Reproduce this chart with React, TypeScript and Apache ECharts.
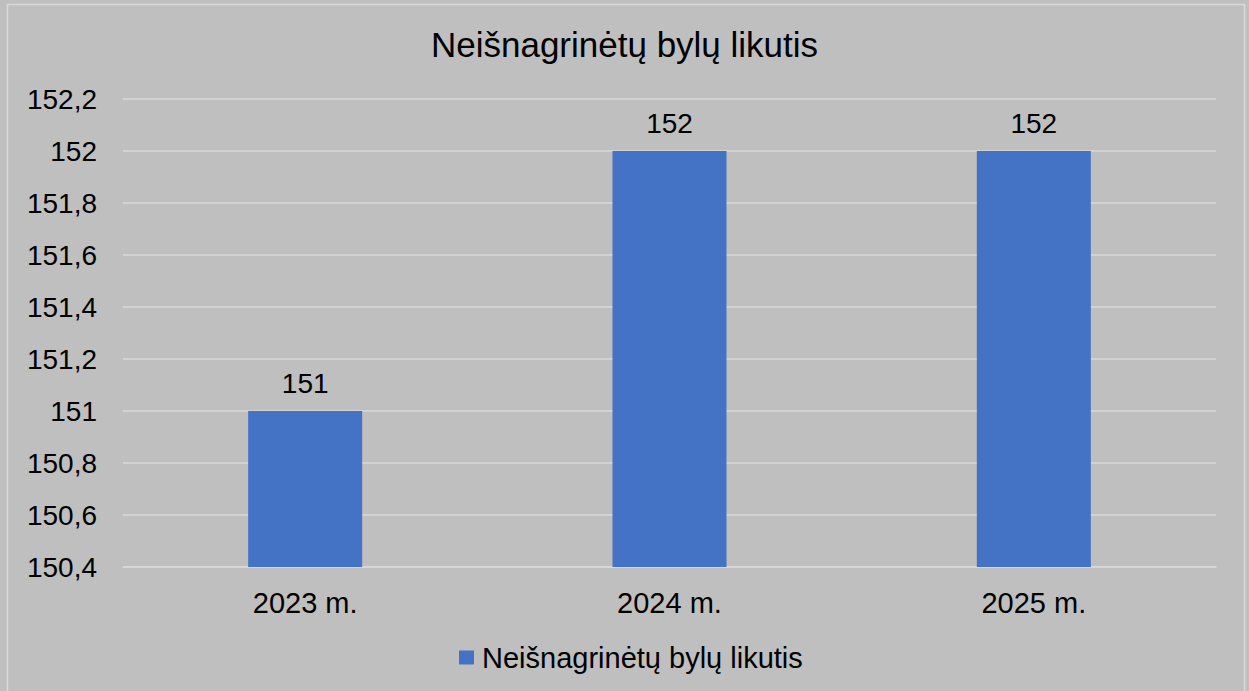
import React, { useEffect, useRef } from "react";
import * as echarts from "echarts";

const title = "Neišnagrinėtų bylų likutis";
const categories = ["2023 m.", "2024 m.", "2025 m."];
const seriesName = "Neišnagrinėtų bylų likutis";
const values = [151, 152, 152];
const yMin = 150.4;
const yMax = 152.2;
const yInterval = 0.2;

const FONT = "'Liberation Sans', Arial, sans-serif";

function fmt(v: number): string {
  return (Math.round(v * 10) / 10).toString().replace(".", ",");
}

export default function App() {
  const ref = useRef<HTMLDivElement>(null);
  useEffect(() => {
    if (!ref.current) return;
    const chart = echarts.init(ref.current, undefined, { renderer: "svg" });
    chart.setOption({
      animation: false,
      backgroundColor: "#bfbfbf",
      textStyle: { fontFamily: FONT },
      title: {
        text: title,
        left: "center",
        top: 27,
        padding: 0,
        textStyle: { fontFamily: FONT, fontSize: 35, fontWeight: "normal", color: "#000" },
      },
      legend: {
        data: [seriesName],
        left: 459,
        top: 643,
        padding: 0,
        icon: "rect",
        itemWidth: 15,
        itemHeight: 14,
        textStyle: { fontFamily: FONT, fontSize: 29, color: "#000", padding: [0, 0, 0, 3] },
      },
      grid: { left: 123, right: 33, top: 99, bottom: 124, containLabel: false },
      xAxis: {
        type: "category",
        data: categories,
        axisTick: { show: false },
        axisLine: { show: true, lineStyle: { color: "#d9d9d9", width: 1.5 } },
        axisLabel: { fontFamily: FONT, fontSize: 29, color: "#000", margin: 21 },
      },
      yAxis: {
        type: "value",
        min: yMin,
        max: yMax,
        interval: yInterval,
        axisLine: { show: false },
        axisTick: { show: false },
        splitLine: { show: true, lineStyle: { color: "#d9d9d9", width: 1.5 } },
        axisLabel: {
          fontFamily: FONT,
          fontSize: 28,
          color: "#000",
          margin: 26,
          formatter: (v: number) => fmt(v),
        },
      },
      series: [
        {
          name: seriesName,
          type: "bar",
          data: values,
          barWidth: 114,
          itemStyle: { color: "#4472c4" },
          label: {
            show: true,
            position: "top",
            distance: 14,
            fontFamily: FONT,
            fontSize: 28,
            color: "#000",
            formatter: (p: any) => fmt(p.value),
          },
        },
      ],
      graphic: [
        {
          type: "rect",
          silent: true,
          shape: { x: 7.5, y: 4.5, width: 1237, height: 700 },
          style: { fill: "none", stroke: "#d9d9d9", lineWidth: 1.5 },
        },
      ],
    });
    return () => chart.dispose();
  }, []);
  return (
    <div
      ref={ref}
      style={{ position: "absolute", left: 0, top: 0, width: 1249, height: 691 }}
    />
  );
}
